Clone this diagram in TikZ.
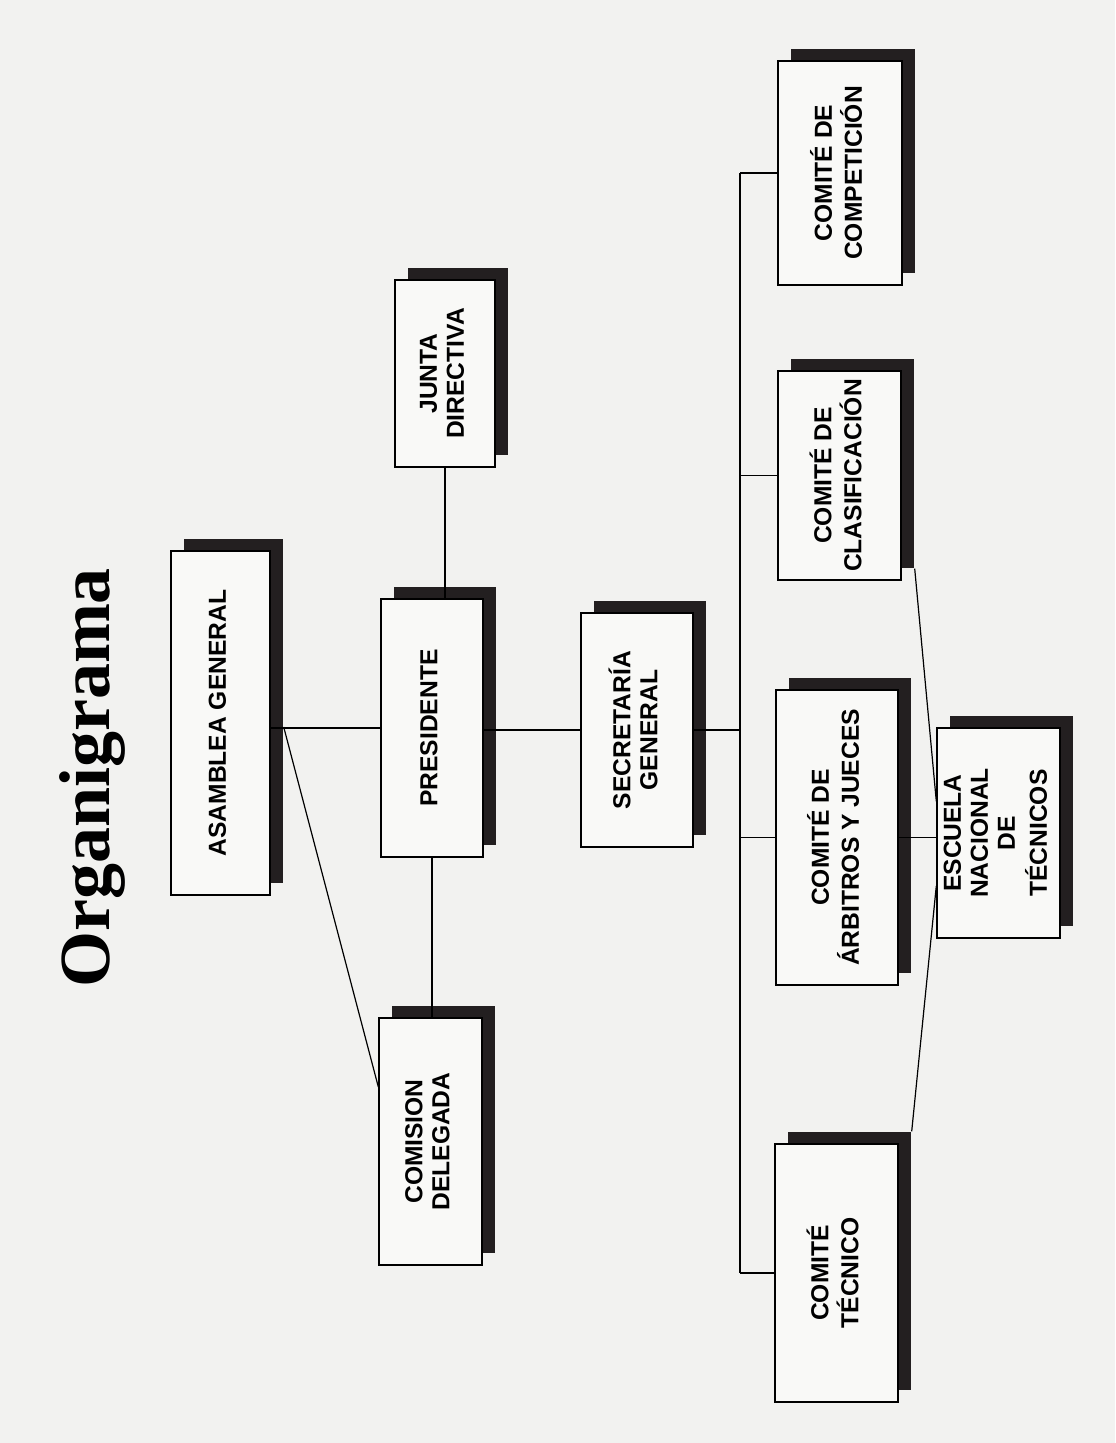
\documentclass[tikz,border=0pt]{standalone}
\usepackage{fontspec}
\setmainfont{Liberation Serif}
\setsansfont{Liberation Sans}
\usepackage{graphicx}
\usepackage{tikz}
\usetikzlibrary{shadows, calc}

\definecolor{paper}{RGB}{242,242,240}
\definecolor{boxfill}{RGB}{249,249,247}
\definecolor{shade}{RGB}{35,31,32}

\newcommand{\vtext}[1]{\rotatebox{90}{\begin{tabular}{@{}c@{}}#1\end{tabular}}}

\begin{document}
\begin{tikzpicture}[x=0.5pt, y=-0.5pt,
    orgbox/.style={draw, line width=0.7pt, fill=boxfill, inner sep=0pt,
      font=\sffamily\bfseries\fontsize{12.3}{13.5}\selectfont,
      drop shadow={shadow xshift=6.5pt, shadow yshift=6pt, fill=shade, opacity=1}},
    link/.style={line width=0.6pt}]
    \fill[paper] (0,0) rectangle (1115,1443);

    \node[font=\bfseries\fontsize{36}{40}\selectfont, rotate=90] (title) at (92,778) {Organigrama};

    \node[orgbox, minimum width=49.5pt, minimum height=172pt] (asamblea) at (220.5,723) {\vtext{ASAMBLEA GENERAL}};
    \node[orgbox, minimum width=51pt, minimum height=129pt] (presidente) at (432,728) {\vtext{PRESIDENTE}};
    \node[orgbox, minimum width=56pt, minimum height=117pt] (secretaria) at (637,730) {\vtext{SECRETARÍA\\GENERAL}};
    \node[orgbox, minimum width=50pt, minimum height=93.5pt] (junta) at (445,373.5) {\vtext{JUNTA\\DIRECTIVA}};
    \node[orgbox, minimum width=51.5pt, minimum height=123.5pt] (comision) at (430.5,1141.5) {\vtext{COMISION\\DELEGADA}};
    \node[orgbox, minimum width=62pt, minimum height=112pt] (competicion) at (840,173) {\vtext{COMITÉ DE\\COMPETICIÓN}};
    \node[orgbox, minimum width=61.5pt, minimum height=104.5pt] (clasificacion) at (839.5,475.5) {\vtext{COMITÉ DE\\CLASIFICACIÓN}};
    \node[orgbox, minimum width=61pt, minimum height=147.5pt] (arbitros) at (837,837.5) {\vtext{COMITÉ DE\\ÁRBITROS Y JUECES}};
    \node[orgbox, minimum width=61.5pt, minimum height=129pt] (tecnico) at (836.5,1273) {\vtext{COMITÉ\\TÉCNICO}};
    \node[orgbox, minimum width=61.5pt, minimum height=105pt] (escuela) at (998.5,833) {\vtext{ESCUELA\\NACIONAL\\DE\\[1pt]TÉCNICOS}};

    \coordinate (bus) at (740,730);

    \draw[link] (asamblea.east |- presidente.west) -- (presidente.west);
    \draw[link] ([xshift=6.5pt,yshift=-2pt]asamblea.east) -- ($(comision.north west)!0.28!(comision.south west)$);
    \draw[link] (junta.south) -- (junta.south |- presidente.north);
    \draw[link] (presidente.south) -- (presidente.south |- comision.north);
    \draw[link] (presidente.east |- secretaria.west) -- (secretaria.west);
    \draw[link] (secretaria.east) -- (secretaria.east -| bus);
    \draw[link] (bus |- competicion.west) -- (bus |- tecnico.west);
    \foreach \n in {competicion, clasificacion, arbitros, tecnico}
        \draw[link] (bus |- \n.west) -- (\n.west);
    \draw[link] (arbitros.east) -- (arbitros.east -| escuela.west);
    \draw[link] ([shift={(13,-12)}]clasificacion.south east) -- ($(escuela.north west)!0.35!(escuela.south west)$);
    \draw[link] ([shift={(13,-12)}]tecnico.north east) -- ($(escuela.north west)!0.75!(escuela.south west)$);
\end{tikzpicture}
\end{document}
